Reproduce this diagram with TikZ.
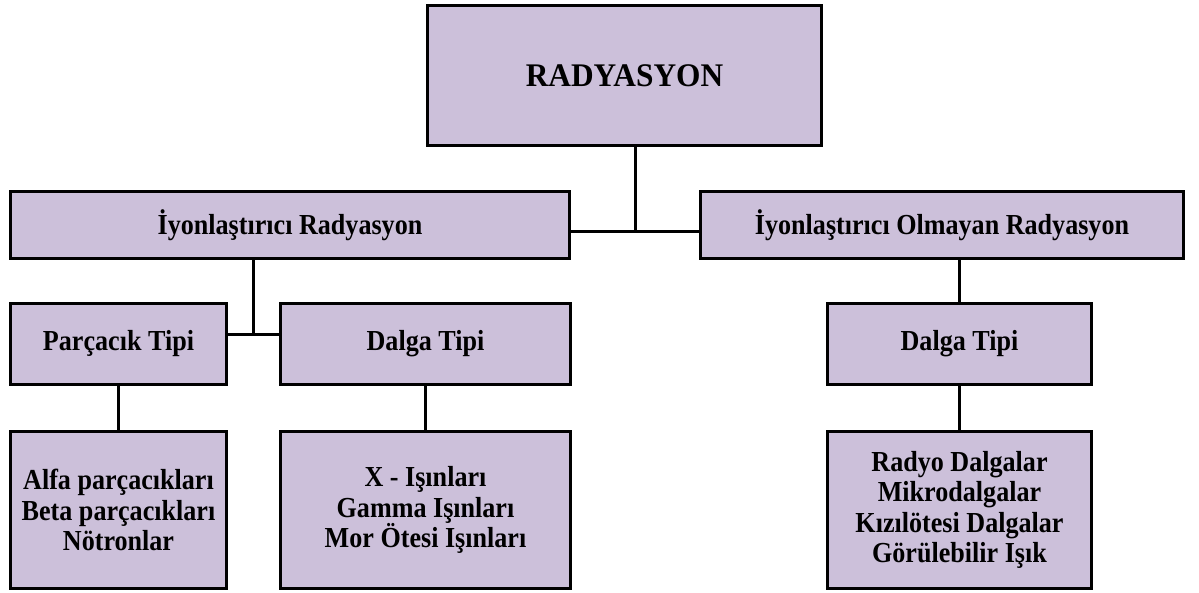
\documentclass[tikz,border=0pt]{standalone}
\usepackage{fontspec}
\setmainfont{Liberation Serif}
\newfontfamily\dar[FakeStretch=0.9]{Liberation Serif}
\newfontfamily\baslik[FakeStretch=0.95]{Liberation Serif}
\definecolor{lavanta}{HTML}{CCC0DA}
\begin{document}
\begin{tikzpicture}[x=1pt,y=-1pt,
    kutu/.style={draw=black,line width=3pt,fill=lavanta,rectangle,align=center,
        inner sep=0pt,font=\dar\fontsize{29}{30.5}\selectfont\bfseries},
    bag/.style={draw=black,line width=3pt}]
    \useasboundingbox (0,0) rectangle (1199,592);
    % ust kutu
    \node[kutu,minimum width=394pt,minimum height=140pt,
        font=\baslik\fontsize{33}{38}\selectfont\bfseries] (radyasyon) at (624.5,75.5) {RADYASYON};
    % ikinci sira
    \node[kutu,minimum width=559pt,minimum height=67pt] (iyon) at (290,225) {İyonlaştırıcı Radyasyon};
    \node[kutu,minimum width=483pt,minimum height=67pt] (iyonolm) at (942,225) {İyonlaştırıcı Olmayan Radyasyon};
    % tipler
    \node[kutu,minimum width=216pt,minimum height=81pt] (parcacik) at (118.5,344) {Parçacık Tipi};
    \node[kutu,minimum width=290pt,minimum height=81pt] (dalga) at (425.5,344) {Dalga Tipi};
    \node[kutu,minimum width=264pt,minimum height=81pt] (dalgaR) at (959.5,344) {Dalga Tipi};
    % alt kutular
    \node[kutu,minimum width=216pt,minimum height=157pt] (alfa) at (118.5,510)
        {Alfa parçacıkları\\Beta parçacıkları\\Nötronlar};
    \node[kutu,minimum width=290pt,minimum height=157pt] (isinlar) at (425.5,510)
        {X - Işınları\\Gamma Işınları\\Mor Ötesi Işınları};
    \node[kutu,minimum width=264pt,minimum height=157pt] (dalgalar) at (959.5,510)
        {Radyo Dalgalar\\Mikrodalgalar\\Kızılötesi Dalgalar\\Görülebilir Işık};
    % baglantilar
    \coordinate (ustkol) at (635,231);
    \coordinate (solkol) at (253,334);
    \draw[bag] (radyasyon.south -| ustkol) -- (ustkol);
    \draw[bag] (iyon.east |- ustkol) -- (iyonolm.west |- ustkol);
    \draw[bag] (iyon.south -| solkol) -- (solkol);
    \draw[bag] (parcacik.east |- solkol) -- (dalga.west |- solkol);
    \draw[bag] (iyonolm.south -| dalgaR.north) -- (dalgaR.north);
    \draw[bag] (parcacik.south) -- (alfa.north);
    \draw[bag] (dalga.south) -- (isinlar.north);
    \draw[bag] (dalgaR.south) -- (dalgalar.north);
\end{tikzpicture}
\end{document}
